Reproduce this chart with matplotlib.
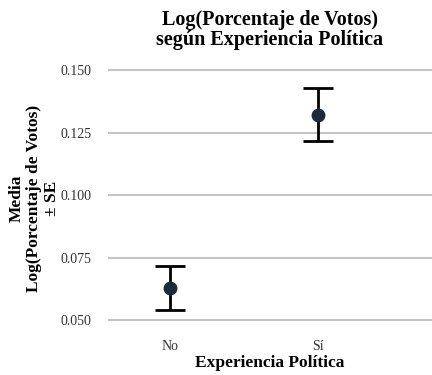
import matplotlib
matplotlib.use("Agg")
import matplotlib.pyplot as plt

# mean and standard error of log vote share by political experience
categories = ["No", "Sí"]
means = [0.063, 0.1322]
se = [0.0087, 0.0107]
yticks = [0.050, 0.075, 0.100, 0.125, 0.150]

plt.rcParams['font.family'] = ['Liberation Serif', 'DejaVu Serif']

fig = plt.figure(figsize=(4.32, 3.75), dpi=100)
ax = fig.add_axes([0.25, 0.109, 0.75, 0.724])

x = list(range(len(categories)))
ax.errorbar(x, means, yerr=se, fmt='o', color='#1c2b3b', markersize=9,
            ecolor='black', elinewidth=2, capsize=11, capthick=2, zorder=3)

ax.set_xlim(-0.42, 1.77)
ax.set_ylim(0.0445, 0.153)
ax.set_yticks(yticks)
ax.set_yticklabels([f"{v:.3f}" for v in yticks])
ax.set_xticks(x)
ax.set_xticklabels(categories)
ax.yaxis.grid(True, color='#c4c4c4', linewidth=1.5)
ax.set_axisbelow(True)
for s in ax.spines.values():
    s.set_visible(False)
ax.tick_params(axis='both', length=0, labelsize=10, colors='#333333', pad=4)
ax.tick_params(axis='y', pad=12)

ax.set_title("Log(Porcentaje de Votos)\nsegún Experiencia Política",
             fontsize=14.5, fontweight='bold', pad=13, linespacing=1.0)
ax.set_xlabel("Experiencia Política", fontsize=12.5, fontweight='bold', labelpad=2)
ax.set_ylabel("Media\nLog(Porcentaje de Votos)\n± SE", fontsize=12.5,
              fontweight='bold', labelpad=0, linespacing=1.15)

fig.savefig("out.png", dpi=100)
